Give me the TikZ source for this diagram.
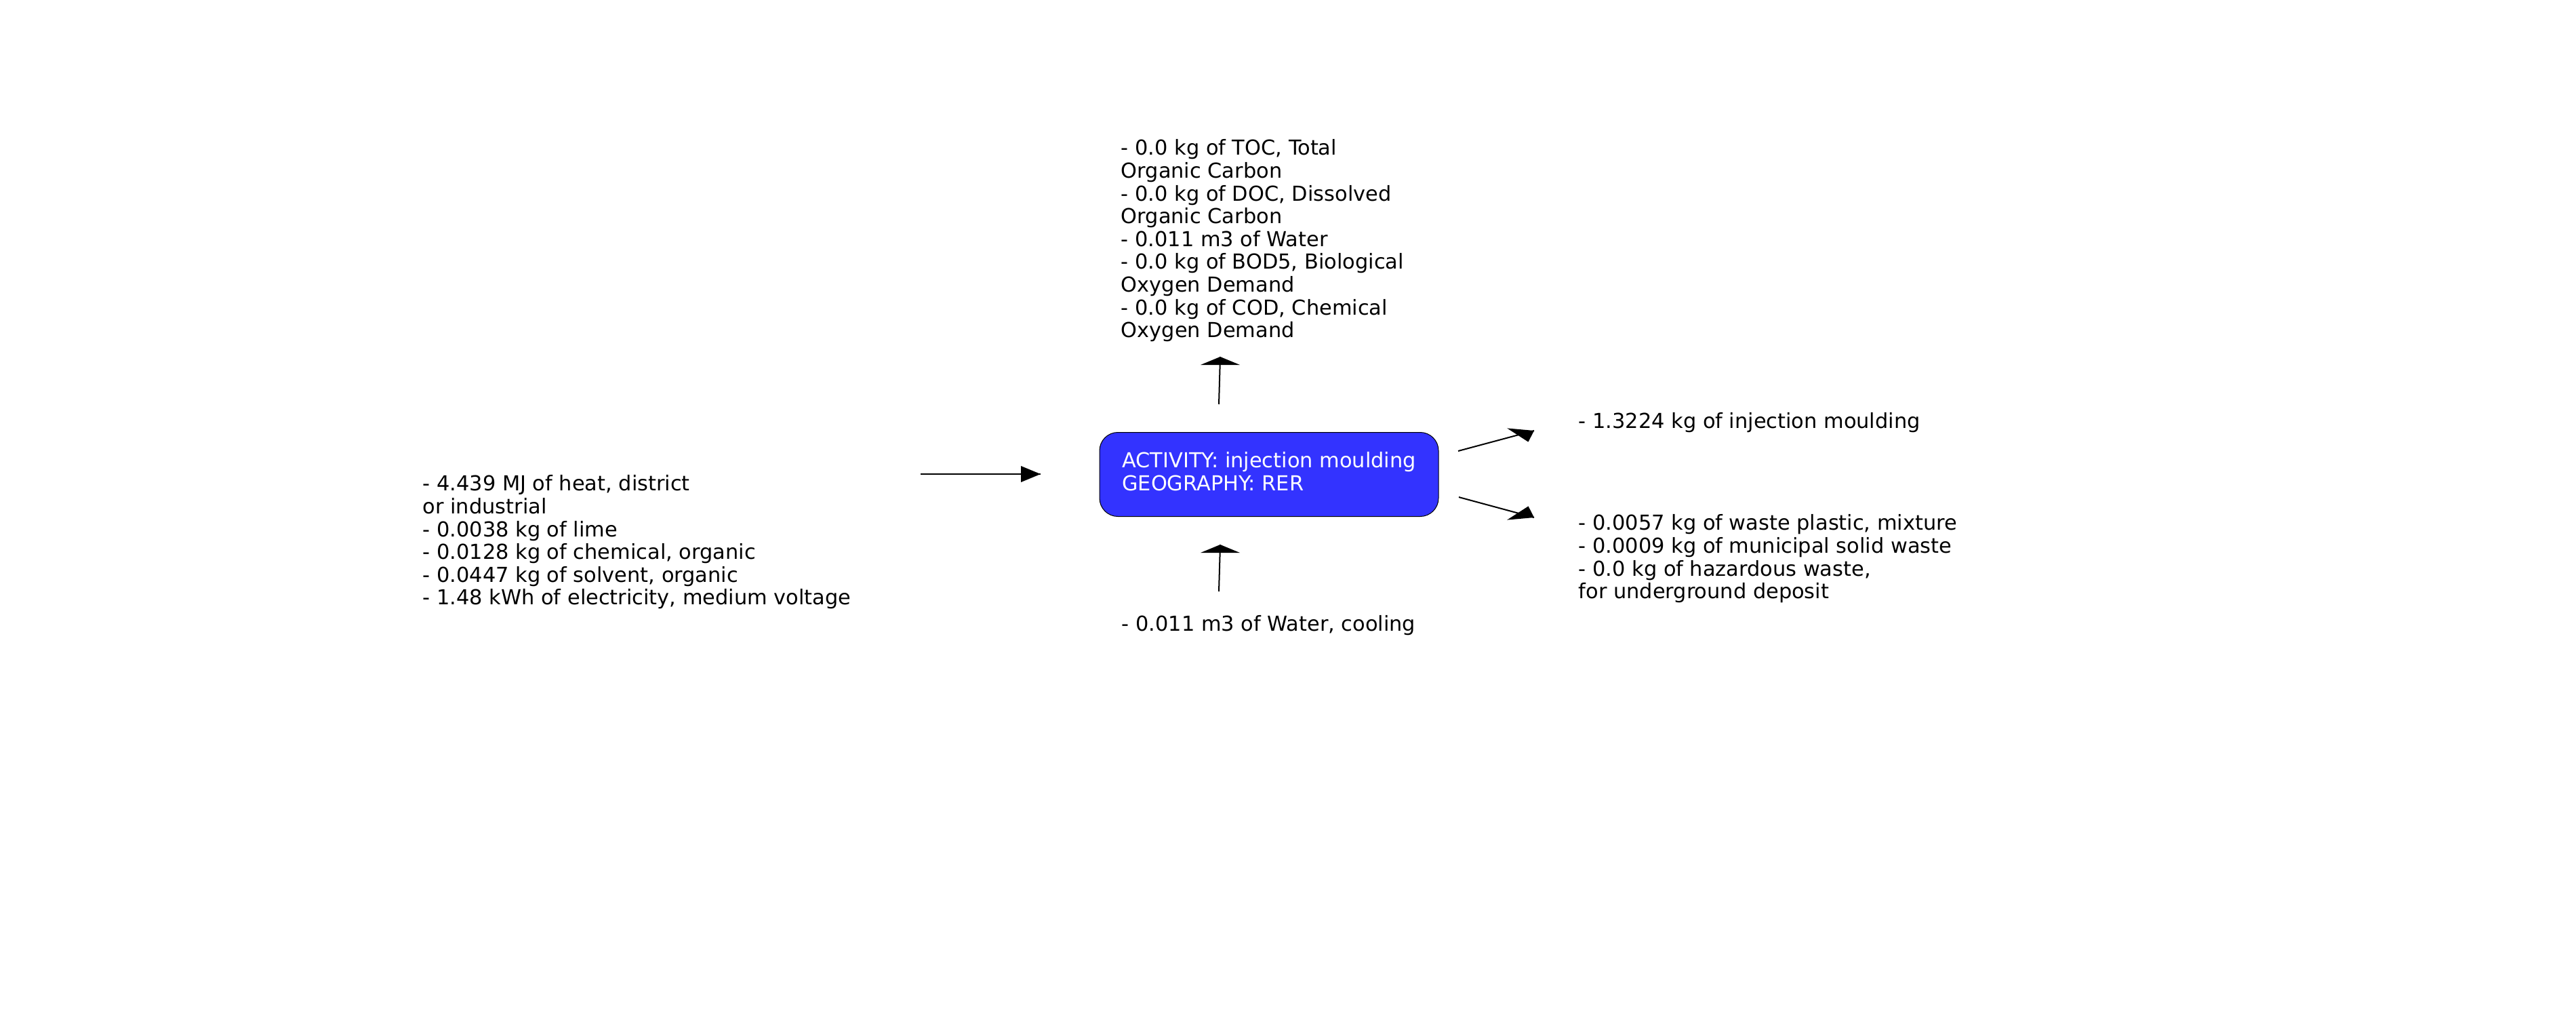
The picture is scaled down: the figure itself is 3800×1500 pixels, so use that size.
\documentclass[tikz,border=0pt]{standalone}
\usepackage{fontspec}
\setmainfont{DejaVu Sans}

\begin{document}
\begin{tikzpicture}[x=0.25pt,y=0.25pt,yscale=-1,
  flowtext/.style={anchor=north west, inner sep=0, align=left, font=\fontsize{7.6}{8.4}\selectfont},
  activitybox/.style={draw=black, line width=0.25pt, fill={rgb, 255:red, 51; green, 51; blue, 255}, text=white, rounded corners=6.75pt, minimum width=125pt, minimum height=31pt, inner sep=0, align=left, font=\fontsize{7.6}{8.4}\selectfont},
  flowline/.style={line width=0.5pt},
  flowhead/.style={fill=black}]

\useasboundingbox (0,0) rectangle (3800,1500);

%Shape: Rounded Rect
\node[activitybox] (activity) at (1872,699.5) {\strut ACTIVITY: injection moulding\\\strut GEOGRAPHY: RER};

%Text
\node[flowtext] (emissions) at (1653,205) {- 0.0 kg of TOC, Total\\Organic Carbon\\- 0.0 kg of DOC, Dissolved\\Organic Carbon\\- 0.011 m3 of Water\\- 0.0 kg of BOD5, Biological\\Oxygen Demand\\- 0.0 kg of COD, Chemical\\Oxygen Demand};
%Text
\node[flowtext] (inputs) at (623,700) {- 4.439 MJ of heat, district\\or industrial\\- 0.0038 kg of lime\\- 0.0128 kg of chemical, organic\\- 0.0447 kg of solvent, organic\\- 1.48 kWh of electricity, medium voltage};
%Text
\node[flowtext] (resources) at (1654,907) {- 0.011 m3 of Water, cooling};
%Text
\node[flowtext] (product) at (2328,608) {- 1.3224 kg of injection moulding};
%Text
\node[flowtext] (wastes) at (2328,758) {- 0.0057 kg of waste plastic, mixture\\- 0.0009 kg of municipal solid waste\\- 0.0 kg of hazardous waste,\\for underground deposit};

%Straight Lines
\coordinate (inTail) at (1358,699);
\coordinate (inTip) at (1535,699);
\draw[flowline] (inTail) -- (inTip);
\fill[flowhead] (inTip) -- ++(-29,-12) -- ++(0,24) -- cycle;

%Straight Lines
\coordinate (emTail) at (1798,596);
\coordinate (emTip) at (1800,526);
\draw[flowline] (emTail) -- (emTip);
\fill[flowhead] (emTip) -- ++(29,12) -- ++(-58,0) -- cycle;

%Straight Lines
\coordinate (resTail) at (1798,872);
\coordinate (resTip) at (1800,803);
\draw[flowline] (resTail) -- (resTip);
\fill[flowhead] (resTip) -- ++(29,12) -- ++(-58,0) -- cycle;

%Straight Lines
\coordinate (prodTail) at (2151,665);
\coordinate (prodTip) at (2263,635);
\draw[flowline] (prodTail) -- (prodTip);
\fill[flowhead] (prodTip) -- ++(-39.8,-3.6) -- ++(31.2,20.2) -- cycle;

%Straight Lines
\coordinate (wasteTail) at (2152,733);
\coordinate (wasteTip) at (2263,763);
\draw[flowline] (wasteTail) -- (wasteTip);
\fill[flowhead] (wasteTip) -- ++(-39.9,3.6) -- ++(31.4,-20.2) -- cycle;

\end{tikzpicture}
\end{document}
